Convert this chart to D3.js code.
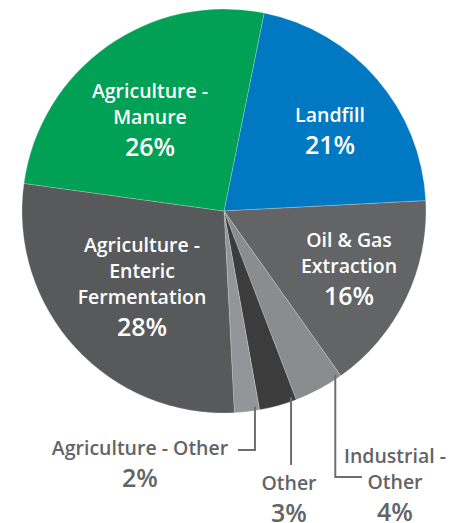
<!DOCTYPE html>
<html>
<head>
<meta charset="utf-8">
<script src="https://cdn.jsdelivr.net/npm/d3@7"></script>
<style>
  body { margin: 0; background: #fff; }
  svg text { font-family: "Open Sans", sans-serif; font-weight: 600; }
</style>
</head>
<body>
<div id="chart"></div>
<script>
// Slices, clockwise from just right of the top
var names = ["Landfill", "Oil & Gas Extraction", "Industrial - Other", "Other",
             "Agriculture - Other", "Agriculture - Enteric Fermentation", "Agriculture - Manure"];
var values = [21, 16, 4, 3, 2, 28, 26];
var labelLines = [
    ["Landfill"],
    ["Oil & Gas", "Extraction"],
    ["Industrial -", "Other"],
    ["Other"],
    ["Agriculture - Other"],
    ["Agriculture -", "Enteric", "Fermentation"],
    ["Agriculture -", "Manure"]
];
var colors = ["#0079c2", "#636466", "#8b8c8e", "#3c3c3d", "#939598", "#58595b", "#00a055"];

var width = 457, height = 523;
var cx = 224, cy = 211, radius = 202;

// label anchor (first baseline) relative to centre, and whether it sits outside
var labelPos = [
    { x: 106, y: -89, inside: true },
    { x: 125, y: 36, inside: true },
    { x: 171, y: 252, inside: false },
    { x: 65, y: 279, inside: false },
    { x: -84, y: 244, inside: false },
    { x: -82, y: 41, inside: true },
    { x: -74, y: -113, inside: true }
];

var data = names.map((n, i) => ({ name: n, value: values[i], lines: labelLines[i], color: colors[i], pos: labelPos[i] }));

var svg = d3.select("#chart")
    .append("svg")
    .attr("width", width)
    .attr("height", height);

var g = svg.append("g")
    .attr("transform", "translate(" + cx + "," + cy + ")");

var pie = d3.pie()
    .value(d => d.value)
    .sort(null)
    .startAngle(0.2)
    .endAngle(0.2 + 2 * Math.PI);

var arc = d3.arc()
    .innerRadius(0)
    .outerRadius(radius);

var arcs = pie(data);

g.selectAll("path")
    .data(arcs)
    .enter()
    .append("path")
    .attr("d", arc)
    .attr("fill", d => d.data.color)
    .attr("stroke", "rgba(255,255,255,0.35)")
    .attr("stroke-width", 0.6);

// leader lines for the three small slices
function edge(a, r) { return [r * Math.sin(a), -r * Math.cos(a)]; }
var lineColor = "#6d6e71";
var leaders = [
    { i: 4, bottom: 239, toX: 14 },
    { i: 3, bottom: 254, toX: null },
    { i: 2, bottom: 266, toX: 138 }
];
leaders.forEach(function (l) {
    var d = arcs[l.i];
    var p = edge(d.startAngle + 0.02, radius - 4);
    var pts = [[p[0], p[1]], [p[0], l.bottom]];
    if (l.toX !== null) pts.push([l.toX, l.bottom]);
    g.append("path")
        .attr("d", d3.line()(pts))
        .attr("fill", "none")
        .attr("stroke", lineColor)
        .attr("stroke-width", 2);
});

// labels
arcs.forEach(function (d) {
    var p = d.data.pos;
    var fill = p.inside ? "#fff" : "#636466";
    var t = g.append("text")
        .attr("text-anchor", "middle")
        .attr("fill", fill);
    d.data.lines.forEach(function (line, k) {
        t.append("tspan")
            .attr("x", p.x)
            .attr("y", p.y + k * 26)
            .style("font-size", "19.5px")
            .text(line);
    });
    g.append("text")
        .attr("text-anchor", "middle")
        .attr("fill", fill)
        .attr("x", p.x)
        .attr("y", p.y + (d.data.lines.length - 1) * 26 + 32)
        .style("font-size", "25px")
        .text(d.data.value + "%");
});
</script>
</body>
</html>
